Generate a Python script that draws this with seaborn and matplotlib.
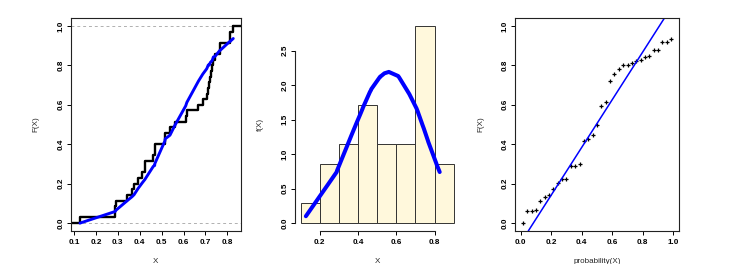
import matplotlib
matplotlib.use("Agg")
import matplotlib.pyplot as plt
import numpy as np
import seaborn as sns

# sorted sample
sample = [0.127, 0.288, 0.289, 0.290, 0.343, 0.365, 0.374, 0.392, 0.412,
          0.424, 0.425, 0.462, 0.468, 0.469, 0.515, 0.516, 0.538, 0.561,
          0.610, 0.615, 0.668, 0.688, 0.706, 0.713, 0.718, 0.722, 0.727,
          0.731, 0.736, 0.744, 0.766, 0.767, 0.810, 0.811, 0.827]

# fitted cdf at each sample point (also the y of the P-P plot)
fitted_cdf = [0.000, 0.059, 0.061, 0.064, 0.114, 0.134, 0.144, 0.175, 0.205,
              0.222, 0.224, 0.288, 0.292, 0.302, 0.417, 0.427, 0.446, 0.497,
              0.595, 0.612, 0.720, 0.756, 0.783, 0.802, 0.802, 0.814, 0.820,
              0.825, 0.842, 0.846, 0.876, 0.876, 0.920, 0.920, 0.936]

# fitted density at each sample point
fitted_pdf = [0.10, 0.74, 0.75, 0.76, 1.12, 1.27, 1.33, 1.45, 1.58,
              1.66, 1.67, 1.90, 1.93, 1.94, 2.12, 2.12, 2.17, 2.19,
              2.13, 2.11, 1.87, 1.76, 1.66, 1.61, 1.57, 1.54, 1.50,
              1.47, 1.43, 1.37, 1.19, 1.18, 0.86, 0.85, 0.74]

# plotting positions of the P-P plot
pp_prob = [0.014, 0.043, 0.071, 0.100, 0.129, 0.157, 0.186, 0.214, 0.243,
           0.271, 0.300, 0.329, 0.357, 0.386, 0.414, 0.443, 0.471, 0.500,
           0.529, 0.557, 0.586, 0.614, 0.643, 0.671, 0.700, 0.729, 0.757,
           0.786, 0.814, 0.843, 0.871, 0.900, 0.929, 0.957, 0.986]

bin_edges = [0.1, 0.2, 0.3, 0.4, 0.5, 0.6, 0.7, 0.8, 0.9]
line_intercept = -0.10
line_slope = 1.21

sns.set_style("ticks")
plt.rcParams["font.family"] = ["Liberation Sans", "DejaVu Sans"]

fig = plt.figure(figsize=(7.4, 2.64), dpi=100)
ax1 = fig.add_axes([0.0959, 0.125, 0.2297, 0.8068])
ax2 = fig.add_axes([0.3981, 0.125, 0.2232, 0.8068])
ax3 = fig.add_axes([0.6954, 0.125, 0.2227, 0.8068])

tick_kw = dict(labelsize=5.9, length=2.9, width=0.7, pad=3.0, colors="black")


def style_axes(ax, xlabel, ylabel):
    ax.tick_params(axis="both", **tick_kw)
    ax.tick_params(axis="y", pad=1.5)
    for lab in ax.get_xticklabels() + ax.get_yticklabels():
        lab.set_fontweight("bold")
    for lab in ax.get_yticklabels():
        lab.set_rotation(90)
        lab.set_va("center")
    ax.set_xlabel(xlabel, fontsize=5.8)
    ax.set_ylabel(ylabel, fontsize=5.8)
    ax.xaxis.set_label_coords(0.5, -0.127)
    ax.yaxis.set_label_coords(-0.185, 0.5)


# Panel 1: ECDF with fitted CDF
xlo, xhi = 0.086, 0.862
ax1.axhline(0, color="#b0b0b0", lw=0.7, ls=(0, (3, 3)))
ax1.axhline(1, color="#b0b0b0", lw=0.7, ls=(0, (3, 3)))
sns.ecdfplot(x=sample, ax=ax1, color="black", lw=1.7)
ax1.plot([xlo, sample[0]], [0, 0], color="black", lw=1.7)
ax1.plot([sample[-1], xhi], [1, 1], color="black", lw=1.7)
sns.lineplot(x=sample, y=fitted_cdf, ax=ax1, color="#0000ff", lw=2.1,
             estimator=None, sort=False)
ax1.set_xlim(xlo, xhi)
ax1.set_ylim(-0.04, 1.04)
ax1.set_xticks(np.arange(0.1, 0.81, 0.1))
ax1.set_yticks(np.arange(0, 1.01, 0.2))
ax1.set_xticklabels([f"{v:.1f}" for v in np.arange(0.1, 0.81, 0.1)])
ax1.set_yticklabels([f"{v:.1f}" for v in np.arange(0, 1.01, 0.2)])
for s in ax1.spines.values():
    s.set_linewidth(0.8)
    s.set_color("#222222")
style_axes(ax1, "X", "F(X)")

# Panel 2: histogram with fitted density
sns.histplot(x=sample, bins=bin_edges, stat="density", ax=ax2,
             color="#fff8dc", edgecolor="#333333", linewidth=0.7, alpha=1)
sns.lineplot(x=sample, y=fitted_pdf, ax=ax2, color="#0000ff", lw=2.9,
             estimator=None, sort=False)
ax2.set_xlim(0.068, 0.932)
ax2.set_ylim(-0.114, 2.971)
ax2.set_xticks([0.2, 0.4, 0.6, 0.8])
ax2.set_xticklabels(["0.2", "0.4", "0.6", "0.8"])
ax2.set_yticks([0, 0.5, 1.0, 1.5, 2.0, 2.5])
ax2.set_yticklabels(["0.0", "0.5", "1.0", "1.5", "2.0", "2.5"])
ax2.spines["top"].set_visible(False)
ax2.spines["right"].set_visible(False)
ax2.spines["bottom"].set_bounds(0.2, 0.8)
ax2.spines["left"].set_bounds(0, 2.5)
for s in ax2.spines.values():
    s.set_linewidth(0.8)
    s.set_color("#222222")
style_axes(ax2, "X", "f(X)")

# Panel 3: P-P plot
sns.scatterplot(x=pp_prob, y=fitted_cdf, ax=ax3, marker="+", color="black",
                s=12, linewidth=0.9)
ax3.axline((0, line_intercept), slope=line_slope, color="#0000ff", lw=1.1)
ax3.set_xlim(-0.04, 1.04)
ax3.set_ylim(-0.04, 1.04)
ax3.set_xticks(np.arange(0, 1.01, 0.2))
ax3.set_yticks(np.arange(0, 1.01, 0.2))
ax3.set_xticklabels([f"{v:.1f}" for v in np.arange(0, 1.01, 0.2)])
ax3.set_yticklabels([f"{v:.1f}" for v in np.arange(0, 1.01, 0.2)])
for s in ax3.spines.values():
    s.set_linewidth(0.8)
    s.set_color("#222222")
style_axes(ax3, "probability(X)", "F(X)")

fig.savefig("out.png", dpi=100)
